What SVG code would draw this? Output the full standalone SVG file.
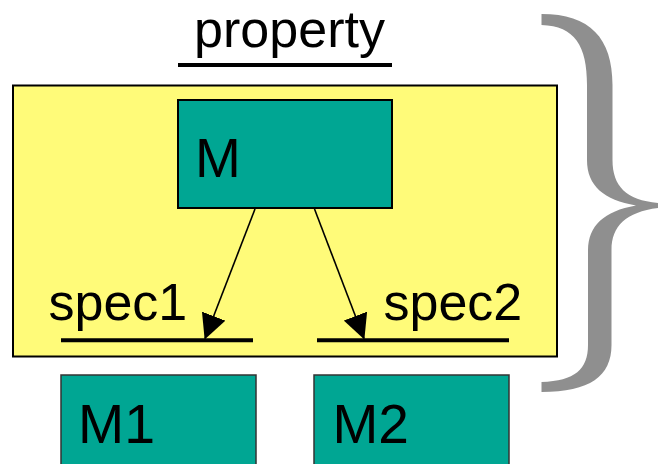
<svg xmlns="http://www.w3.org/2000/svg" width="658" height="464" viewBox="0 0 658 464">
  <style>
    .lbl { font-family: "Liberation Sans", Arial, sans-serif; fill: #000; }
    .mod { fill: #00A693; stroke: #000; stroke-width: 2; }
    .mod-low { fill: #00A693; stroke: #333; stroke-width: 1.5; }
    .rule { stroke: #000; stroke-width: 4; }
    .conn { stroke: #000; stroke-width: 1.6; fill: none; }
  </style>
  <defs>
    <marker id="arrow" viewBox="0 0 25 25" refX="24" refY="12.5" markerWidth="25" markerHeight="25" markerUnits="userSpaceOnUse" orient="auto">
      <path d="M0,0 L25,12.5 L0,25 z" fill="#000"/>
    </marker>
  </defs>

  <rect width="658" height="464" fill="#fff"/>

  <!-- property heading -->
  <g id="property">
    <text class="lbl" x="194" y="47" font-size="52" textLength="191" lengthAdjust="spacingAndGlyphs">property</text>
    <line class="rule" x1="178" y1="65" x2="392" y2="65"/>
  </g>

  <!-- enclosing property box -->
  <g id="property-box">
    <rect x="13" y="85.5" width="544" height="271" fill="#FFFB79" stroke="#000" stroke-width="2"/>
  </g>

  <g id="M">
    <rect class="mod" x="178" y="100" width="214" height="108"/>
    <text class="lbl" x="195" y="177" font-size="55">M</text>
  </g>

  <g id="spec1">
    <text class="lbl" x="48.5" y="320" font-size="52">spec1</text>
    <line class="rule" x1="61" y1="340.3" x2="253" y2="340.3"/>
  </g>

  <g id="spec2">
    <text class="lbl" x="383.5" y="319.5" font-size="52">spec2</text>
    <line class="rule" x1="317" y1="340.3" x2="509" y2="340.3"/>
  </g>

  <g id="M1">
    <rect class="mod-low" x="61" y="375" width="195" height="95"/>
    <text class="lbl" x="78" y="443" font-size="55" textLength="77" lengthAdjust="spacingAndGlyphs">M1</text>
  </g>

  <g id="M2">
    <rect class="mod-low" x="314" y="375" width="195" height="95"/>
    <text class="lbl" x="332.5" y="443" font-size="55">M2</text>
  </g>

  <!-- grey brace on the right -->
  <g id="brace">
    <path fill="#8F8F8F" d="M541.5,14
      C590,14 612.5,38 612.5,85
      L612.5,160
      C612.5,186 626,200 658,203
      L658,208
      C626,212 611.5,226 611.5,250
      L611.5,345
      C611.5,376 590,392 541.5,392
      L541.5,382
      C575,381 588,369 588,345
      L588,250
      C588,226 604,211 636,205.5
      C604,200 587,186 587,160
      L587,85
      C587,46 575,26 541.5,25 Z"/>
  </g>

  <!-- connectors -->
  <g id="connectors">
    <line class="conn" x1="255" y1="209" x2="205" y2="338.5" marker-end="url(#arrow)"/>
    <line class="conn" x1="314.5" y1="209" x2="364" y2="338.5" marker-end="url(#arrow)"/>
  </g>
</svg>
